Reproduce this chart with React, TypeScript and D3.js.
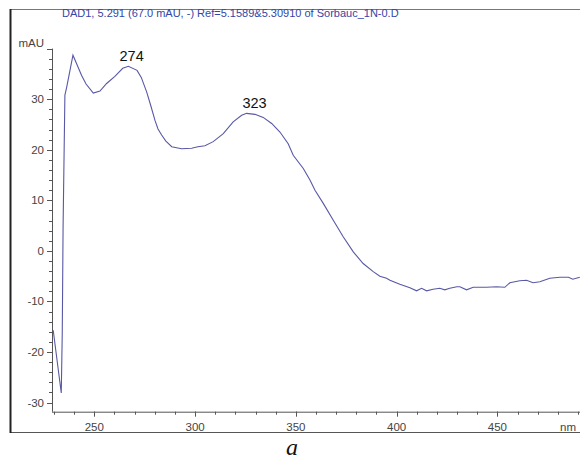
import * as d3 from "d3";

// UV spectrum (nm, mAU)
const wavelength = [
  229.6, 233.6, 234.1, 234.5, 235.4, 236.2, 239.4, 243.7, 245.9, 249.5, 252.8,
  256.1, 260.2, 264.1, 266.9, 271.2, 273.3, 276.0, 278.1, 280.1, 281.6, 283.4,
  285.5, 288.4, 293.3, 298.3, 301.4, 304.9, 309.0, 314.0, 318.9, 323.1, 325.6,
  329.7, 333.8, 338.0, 342.1, 346.2, 348.7, 353.7, 357.0, 359.5, 363.6, 368.5,
  373.5, 378.5, 383.4, 388.4, 391.7, 395.0, 396.7, 401.6, 406.6, 409.9, 412.4,
  414.9, 418.1, 421.4, 423.9, 426.4, 429.9, 431.4, 434.7, 438.0, 444.6, 449.6,
  453.7, 456.2, 461.1, 464.5, 467.7, 471.1, 476.0, 481.0, 485.3, 487.4, 490.9,
];
const absorbance = [
  -15.7, -28.1, -16.0, 4.7, 30.8, 32.2, 38.7, 34.7, 33.0, 31.2, 31.6, 33.1,
  34.5, 36.1, 36.5, 35.7, 34.3, 31.4, 28.6, 25.8, 24.1, 22.9, 21.7, 20.6, 20.2,
  20.3, 20.6, 20.8, 21.6, 23.2, 25.5, 26.8, 27.2, 27.0, 26.4, 25.2, 23.5, 21.2,
  18.9, 16.3, 14.0, 12.0, 9.4, 6.1, 2.8, -0.2, -2.5, -4.1, -5.0, -5.4, -5.8,
  -6.6, -7.3, -7.9, -7.4, -7.9, -7.6, -7.4, -7.7, -7.4, -7.1, -7.1, -7.7, -7.2,
  -7.2, -7.1, -7.2, -6.3, -5.9, -5.8, -6.3, -6.1, -5.4, -5.2, -5.2, -5.6, -5.2,
];

const xMajor = [250, 300, 350, 400, 450];
const yMajor = [-30, -20, -10, 0, 10, 20, 30];
const peakLabels = ["274", "323"];
const peakAt = [268.5, 329.5]; // nm where the label sits
const title =
  "DAD1, 5.291 (67.0 mAU, -) Ref=5.1589&5.30910 of Sorbauc_1N-0.D";

const W = 580;
const H = 461;
const font = "Arial, 'Liberation Sans', sans-serif";

export default function App() {
  const x = d3.scaleLinear().domain([229, 491]).range([52, 580]);
  const y = d3.scaleLinear().domain([-31.8, 40]).range([411.7, 48.6]);

  const pts = wavelength.map((w, i) => [w, absorbance[i]] as [number, number]);
  const line = d3
    .line<[number, number]>()
    .x((d) => x(d[0]))
    .y((d) => y(d[1]));

  const xMinor = d3.range(230, 491, 10);
  const yMinor = d3.range(-30, 40.01, 2);
  const x0 = x.range()[0];
  const yb = y.range()[0];

  // label height from the curve near each peak
  const peakY = peakAt.map((p) => {
    const near = pts.filter((d) => Math.abs(d[0] - p) < 6);
    return d3.max(near, (d) => d[1]) ?? 0;
  });

  return (
    <svg
      width={W}
      height={H}
      style={{ position: "absolute", left: 0, top: 0, background: "#fff" }}
      fontFamily={font}
    >
      {/* frame */}
      <line x1={10.5} x2={580} y1={9.5} y2={9.5} stroke="#777" />
      <line x1={10.5} x2={580} y1={432.5} y2={432.5} stroke="#555" />
      <line x1={10.5} x2={10.5} y1={9} y2={433} stroke="#222" strokeWidth={2} />

      <text x={62} y={16.5} fontSize={11} fill="#3346a6">
        {title}
      </text>

      {/* y axis */}
      <line x1={x0 + 0.5} x2={x0 + 0.5} y1={y(40)} y2={yb} stroke="#555" />
      {yMinor.map((v) => (
        <line
          key={"ym" + v}
          x1={x0 - 3}
          x2={x0}
          y1={Math.round(y(v)) + 0.5}
          y2={Math.round(y(v)) + 0.5}
          stroke="#555"
        />
      ))}
      {yMajor.concat([40]).map((v) => (
        <line
          key={"yM" + v}
          x1={x0 - 5}
          x2={x0}
          y1={Math.round(y(v)) + 0.5}
          y2={Math.round(y(v)) + 0.5}
          stroke="#555"
        />
      ))}
      {yMajor.map((v) => (
        <text
          key={"yl" + v}
          x={x0 - 8}
          y={y(v)}
          dy="0.35em"
          textAnchor="end"
          fontSize={11.5}
          fill="#444"
        >
          {v}
        </text>
      ))}
      <text x={x0 - 8} y={y(40) - 2} textAnchor="end" fontSize={11.5} fill="#444">
        mAU
      </text>

      {/* x axis */}
      <line x1={x0} x2={580} y1={yb + 0.5} y2={yb + 0.5} stroke="#555" />
      {xMinor.map((v) => (
        <line
          key={"xm" + v}
          x1={Math.round(x(v)) + 0.5}
          x2={Math.round(x(v)) + 0.5}
          y1={yb}
          y2={yb + 3}
          stroke="#555"
        />
      ))}
      {xMajor.map((v) => (
        <line
          key={"xM" + v}
          x1={Math.round(x(v)) + 0.5}
          x2={Math.round(x(v)) + 0.5}
          y1={yb}
          y2={yb + 5}
          stroke="#555"
        />
      ))}
      {xMajor.map((v) => (
        <text
          key={"xl" + v}
          x={x(v)}
          y={yb + 15}
          dy="0.35em"
          textAnchor="middle"
          fontSize={11.5}
          fill="#444"
        >
          {v}
        </text>
      ))}
      <text x={568} y={yb + 15} dy="0.35em" textAnchor="middle" fontSize={11.5} fill="#444">
        nm
      </text>

      {/* spectrum */}
      <path d={line(pts) ?? ""} fill="none" stroke="#5858a6" strokeWidth={1.1} />

      {peakLabels.map((t, i) => (
        <text
          key={t}
          x={x(peakAt[i])}
          y={y(peakY[i]) - 5}
          textAnchor="middle"
          fontSize={14.5}
          fill="#111"
        >
          {t}
        </text>
      ))}

      <text
        x={292}
        y={455}
        textAnchor="middle"
        fontSize={24}
        fontStyle="italic"
        fontFamily="'Liberation Serif', 'DejaVu Serif', serif"
        fill="#111"
      >
        a
      </text>
    </svg>
  );
}
